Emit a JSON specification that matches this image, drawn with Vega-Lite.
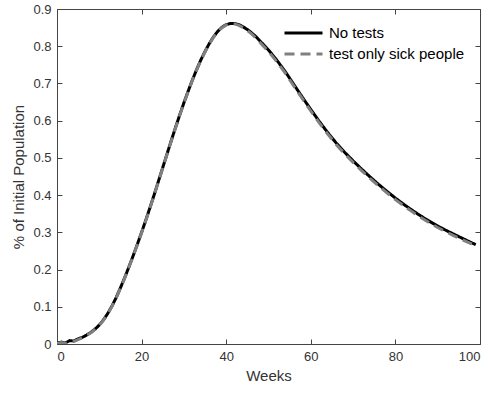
{
  "$schema": "https://vega.github.io/schema/vega-lite/v6.json",
  "width": 423,
  "height": 335,
  "autosize": "none",
  "padding": {"left": 57, "top": 9, "right": 19, "bottom": 49},
  "background": "white",
  "config": {
    "font": "Liberation Sans",
    "view": {"stroke": null},
    "axis": {
      "grid": false,
      "domainColor": "#444444",
      "tickColor": "#444444",
      "labelColor": "#333333",
      "titleColor": "#333333",
      "labelFont": "Liberation Sans",
      "titleFont": "Liberation Sans",
      "labelFontSize": 13,
      "titleFontSize": 15,
      "titleFontWeight": "normal",
      "tickSize": -5,
      "domainWidth": 1,
      "tickWidth": 1
    },
    "legend": {
      "title": null,
      "symbolType": "M-2,0H2",
      "symbolSize": 361,
      "symbolStrokeWidth": 3,
      "labelFontSize": 15,
      "labelColor": "#000000",
      "labelFont": "Liberation Sans",
      "labelOffset": 14.5,
      "rowPadding": 2
    }
  },
  "datasets": {
    "curves": [
      {"week": 0, "value": 0.003, "series": "No tests"},
      {"week": 1, "value": 0.005, "series": "No tests"},
      {"week": 2, "value": 0.003, "series": "No tests"},
      {"week": 3, "value": 0.009, "series": "No tests"},
      {"week": 4, "value": 0.008, "series": "No tests"},
      {"week": 5, "value": 0.014, "series": "No tests"},
      {"week": 6, "value": 0.018, "series": "No tests"},
      {"week": 7, "value": 0.024, "series": "No tests"},
      {"week": 8, "value": 0.031, "series": "No tests"},
      {"week": 9, "value": 0.04, "series": "No tests"},
      {"week": 10, "value": 0.051, "series": "No tests"},
      {"week": 11, "value": 0.065, "series": "No tests"},
      {"week": 12, "value": 0.082, "series": "No tests"},
      {"week": 13, "value": 0.102, "series": "No tests"},
      {"week": 14, "value": 0.125, "series": "No tests"},
      {"week": 15, "value": 0.151, "series": "No tests"},
      {"week": 16, "value": 0.178, "series": "No tests"},
      {"week": 17, "value": 0.207, "series": "No tests"},
      {"week": 18, "value": 0.237, "series": "No tests"},
      {"week": 19, "value": 0.268, "series": "No tests"},
      {"week": 20, "value": 0.3, "series": "No tests"},
      {"week": 21, "value": 0.333, "series": "No tests"},
      {"week": 22, "value": 0.367, "series": "No tests"},
      {"week": 23, "value": 0.402, "series": "No tests"},
      {"week": 24, "value": 0.438, "series": "No tests"},
      {"week": 25, "value": 0.474, "series": "No tests"},
      {"week": 26, "value": 0.51, "series": "No tests"},
      {"week": 27, "value": 0.546, "series": "No tests"},
      {"week": 28, "value": 0.581, "series": "No tests"},
      {"week": 29, "value": 0.615, "series": "No tests"},
      {"week": 30, "value": 0.648, "series": "No tests"},
      {"week": 31, "value": 0.679, "series": "No tests"},
      {"week": 32, "value": 0.709, "series": "No tests"},
      {"week": 33, "value": 0.737, "series": "No tests"},
      {"week": 34, "value": 0.763, "series": "No tests"},
      {"week": 35, "value": 0.786, "series": "No tests"},
      {"week": 36, "value": 0.807, "series": "No tests"},
      {"week": 37, "value": 0.825, "series": "No tests"},
      {"week": 38, "value": 0.84, "series": "No tests"},
      {"week": 39, "value": 0.851, "series": "No tests"},
      {"week": 40, "value": 0.858, "series": "No tests"},
      {"week": 41, "value": 0.861, "series": "No tests"},
      {"week": 42, "value": 0.861, "series": "No tests"},
      {"week": 43, "value": 0.858, "series": "No tests"},
      {"week": 44, "value": 0.852, "series": "No tests"},
      {"week": 45, "value": 0.845, "series": "No tests"},
      {"week": 46, "value": 0.836, "series": "No tests"},
      {"week": 47, "value": 0.826, "series": "No tests"},
      {"week": 48, "value": 0.814, "series": "No tests"},
      {"week": 50, "value": 0.79, "series": "No tests"},
      {"week": 52, "value": 0.762, "series": "No tests"},
      {"week": 54, "value": 0.731, "series": "No tests"},
      {"week": 56, "value": 0.697, "series": "No tests"},
      {"week": 58, "value": 0.663, "series": "No tests"},
      {"week": 60, "value": 0.63, "series": "No tests"},
      {"week": 62, "value": 0.598, "series": "No tests"},
      {"week": 64, "value": 0.568, "series": "No tests"},
      {"week": 66, "value": 0.54, "series": "No tests"},
      {"week": 68, "value": 0.515, "series": "No tests"},
      {"week": 70, "value": 0.492, "series": "No tests"},
      {"week": 72, "value": 0.47, "series": "No tests"},
      {"week": 74, "value": 0.449, "series": "No tests"},
      {"week": 76, "value": 0.429, "series": "No tests"},
      {"week": 78, "value": 0.41, "series": "No tests"},
      {"week": 80, "value": 0.392, "series": "No tests"},
      {"week": 82, "value": 0.375, "series": "No tests"},
      {"week": 84, "value": 0.359, "series": "No tests"},
      {"week": 86, "value": 0.344, "series": "No tests"},
      {"week": 88, "value": 0.33, "series": "No tests"},
      {"week": 90, "value": 0.317, "series": "No tests"},
      {"week": 92, "value": 0.305, "series": "No tests"},
      {"week": 94, "value": 0.294, "series": "No tests"},
      {"week": 96, "value": 0.283, "series": "No tests"},
      {"week": 98, "value": 0.272, "series": "No tests"},
      {"week": 99, "value": 0.267, "series": "No tests"},
      {"week": 0, "value": 0.002, "series": "test only sick people"},
      {"week": 1, "value": 0.004, "series": "test only sick people"},
      {"week": 2, "value": 0.002, "series": "test only sick people"},
      {"week": 3, "value": 0.005, "series": "test only sick people"},
      {"week": 4, "value": 0.007, "series": "test only sick people"},
      {"week": 5, "value": 0.012, "series": "test only sick people"},
      {"week": 6, "value": 0.017, "series": "test only sick people"},
      {"week": 7, "value": 0.023, "series": "test only sick people"},
      {"week": 8, "value": 0.03, "series": "test only sick people"},
      {"week": 9, "value": 0.039, "series": "test only sick people"},
      {"week": 10, "value": 0.05, "series": "test only sick people"},
      {"week": 11, "value": 0.064, "series": "test only sick people"},
      {"week": 12, "value": 0.081, "series": "test only sick people"},
      {"week": 13, "value": 0.101, "series": "test only sick people"},
      {"week": 14, "value": 0.124, "series": "test only sick people"},
      {"week": 15, "value": 0.15, "series": "test only sick people"},
      {"week": 16, "value": 0.177, "series": "test only sick people"},
      {"week": 17, "value": 0.206, "series": "test only sick people"},
      {"week": 18, "value": 0.236, "series": "test only sick people"},
      {"week": 19, "value": 0.267, "series": "test only sick people"},
      {"week": 20, "value": 0.299, "series": "test only sick people"},
      {"week": 21, "value": 0.332, "series": "test only sick people"},
      {"week": 22, "value": 0.366, "series": "test only sick people"},
      {"week": 23, "value": 0.401, "series": "test only sick people"},
      {"week": 24, "value": 0.437, "series": "test only sick people"},
      {"week": 25, "value": 0.473, "series": "test only sick people"},
      {"week": 26, "value": 0.509, "series": "test only sick people"},
      {"week": 27, "value": 0.545, "series": "test only sick people"},
      {"week": 28, "value": 0.58, "series": "test only sick people"},
      {"week": 29, "value": 0.614, "series": "test only sick people"},
      {"week": 30, "value": 0.647, "series": "test only sick people"},
      {"week": 31, "value": 0.678, "series": "test only sick people"},
      {"week": 32, "value": 0.708, "series": "test only sick people"},
      {"week": 33, "value": 0.736, "series": "test only sick people"},
      {"week": 34, "value": 0.762, "series": "test only sick people"},
      {"week": 35, "value": 0.785, "series": "test only sick people"},
      {"week": 36, "value": 0.806, "series": "test only sick people"},
      {"week": 37, "value": 0.824, "series": "test only sick people"},
      {"week": 38, "value": 0.839, "series": "test only sick people"},
      {"week": 39, "value": 0.85, "series": "test only sick people"},
      {"week": 40, "value": 0.857, "series": "test only sick people"},
      {"week": 41, "value": 0.86, "series": "test only sick people"},
      {"week": 42, "value": 0.86, "series": "test only sick people"},
      {"week": 43, "value": 0.856, "series": "test only sick people"},
      {"week": 44, "value": 0.85, "series": "test only sick people"},
      {"week": 45, "value": 0.842, "series": "test only sick people"},
      {"week": 46, "value": 0.833, "series": "test only sick people"},
      {"week": 47, "value": 0.822, "series": "test only sick people"},
      {"week": 48, "value": 0.81, "series": "test only sick people"},
      {"week": 50, "value": 0.786, "series": "test only sick people"},
      {"week": 52, "value": 0.758, "series": "test only sick people"},
      {"week": 54, "value": 0.727, "series": "test only sick people"},
      {"week": 56, "value": 0.693, "series": "test only sick people"},
      {"week": 58, "value": 0.659, "series": "test only sick people"},
      {"week": 60, "value": 0.626, "series": "test only sick people"},
      {"week": 62, "value": 0.594, "series": "test only sick people"},
      {"week": 64, "value": 0.564, "series": "test only sick people"},
      {"week": 66, "value": 0.536, "series": "test only sick people"},
      {"week": 68, "value": 0.511, "series": "test only sick people"},
      {"week": 70, "value": 0.488, "series": "test only sick people"},
      {"week": 72, "value": 0.466, "series": "test only sick people"},
      {"week": 74, "value": 0.445, "series": "test only sick people"},
      {"week": 76, "value": 0.425, "series": "test only sick people"},
      {"week": 78, "value": 0.406, "series": "test only sick people"},
      {"week": 80, "value": 0.388, "series": "test only sick people"},
      {"week": 82, "value": 0.371, "series": "test only sick people"},
      {"week": 84, "value": 0.355, "series": "test only sick people"},
      {"week": 86, "value": 0.34, "series": "test only sick people"},
      {"week": 88, "value": 0.326, "series": "test only sick people"},
      {"week": 90, "value": 0.313, "series": "test only sick people"},
      {"week": 92, "value": 0.301, "series": "test only sick people"},
      {"week": 94, "value": 0.29, "series": "test only sick people"},
      {"week": 96, "value": 0.279, "series": "test only sick people"},
      {"week": 98, "value": 0.269, "series": "test only sick people"},
      {"week": 99, "value": 0.264, "series": "test only sick people"}
    ],
    "frame": [{"week": 0, "value": 0}]
  },
  "layer": [
    {
      "data": {"name": "curves"},
      "mark": {"type": "line", "strokeWidth": 3, "clip": true},
      "encoding": {
        "x": {
          "field": "week",
          "type": "quantitative",
          "scale": {"domain": [0, 100], "nice": false},
          "axis": {
            "orient": "bottom",
            "values": [0, 20, 40, 60, 80, 100],
            "title": "Weeks",
            "labelPadding": 11,
            "titlePadding": 5
          }
        },
        "y": {
          "field": "value",
          "type": "quantitative",
          "scale": {"domain": [0, 0.9], "nice": false},
          "axis": {
            "orient": "left",
            "values": [0, 0.1, 0.2, 0.3, 0.4, 0.5, 0.6, 0.7, 0.8, 0.9],
            "format": "~g",
            "title": "% of Initial Population",
            "labelPadding": 11,
            "titlePadding": 6
          }
        },
        "color": {
          "field": "series",
          "type": "nominal",
          "scale": {"domain": ["No tests", "test only sick people"], "range": ["#000000", "#808080"]},
          "legend": {
            "orient": "none",
            "legendX": 235.5,
            "legendY": 13
          }
        },
        "strokeDash": {
          "field": "series",
          "type": "nominal",
          "scale": {"domain": ["No tests", "test only sick people"], "range": [[1, 0], [10, 6]]},
          "legend": {
            "orient": "none",
            "legendX": 235.5,
            "legendY": 13
          }
        }
      }
    },
    {
      "data": {"name": "frame"},
      "mark": {"type": "point", "opacity": 0},
      "encoding": {
        "x": {
          "field": "week",
          "type": "quantitative",
          "scale": {"domain": [0, 100], "nice": false},
          "axis": {"orient": "top", "values": [0, 20, 40, 60, 80, 100], "labels": false, "title": null}
        },
        "y": {
          "field": "value",
          "type": "quantitative",
          "scale": {"domain": [0, 0.9], "nice": false},
          "axis": {"orient": "right", "values": [0, 0.1, 0.2, 0.3, 0.4, 0.5, 0.6, 0.7, 0.8, 0.9], "labels": false, "title": null}
        }
      }
    }
  ],
  "resolve": {"axis": {"x": "independent", "y": "independent"}}
}
